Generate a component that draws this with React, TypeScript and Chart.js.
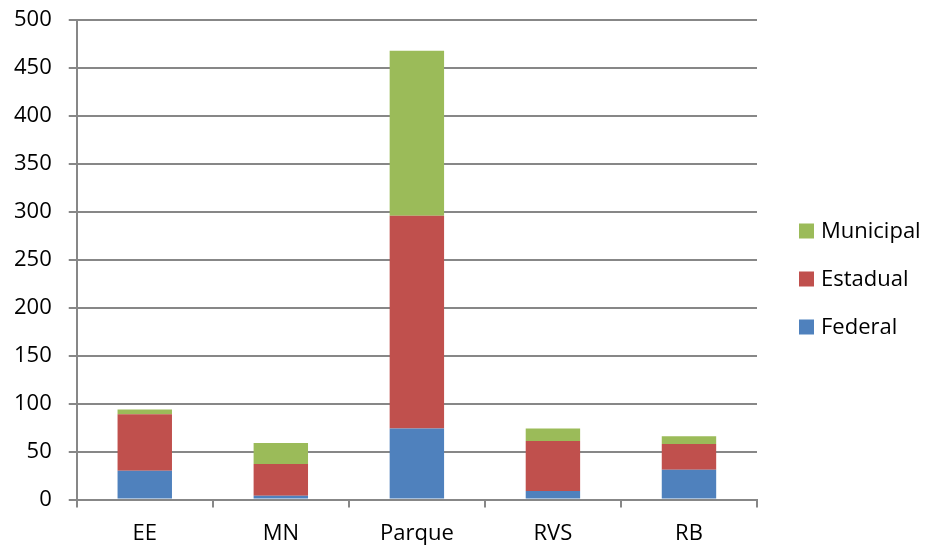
import React, { useEffect, useRef } from "react";
import { Chart, registerables } from "chart.js";

Chart.register(...registerables);

const categories = ["EE", "MN", "Parque", "RVS", "RB"];
const federal = [30, 4, 74, 9, 31];
const estadual = [59, 33, 222, 52, 27];
const municipal = [5, 22, 172, 13, 8];
const yTicks = [0, 50, 100, 150, 200, 250, 300, 350, 400, 450, 500];

const FONT = "'Open Sans', sans-serif";
const FONT_SIZE = 22;
const GRID = "#878787";

// Legend on the right, top entry = last series, square swatches.
const sideLegend = {
  id: "sideLegend",
  afterDraw(chart: any, _args: any, opts: any) {
    const { ctx } = chart;
    const sets = chart.data.datasets.slice().reverse();
    const n = sets.length;
    ctx.save();
    ctx.font = `${FONT_SIZE}px ${FONT}`;
    ctx.textBaseline = "middle";
    ctx.textAlign = "left";
    sets.forEach((ds: any, i: number) => {
      const cy = opts.centerY + (i - (n - 1) / 2) * opts.spacing;
      ctx.fillStyle = ds.backgroundColor;
      ctx.fillRect(opts.x, cy - opts.box / 2, opts.box, opts.box);
      ctx.fillStyle = "#000";
      ctx.fillText(ds.label, opts.x + opts.box + opts.gap, cy + 1);
    });
    ctx.restore();
  },
};

export default function App() {
  const ref = useRef<HTMLCanvasElement | null>(null);

  useEffect(() => {
    if (!ref.current) return;
    const chart = new Chart(ref.current, {
      type: "bar",
      data: {
        labels: categories,
        datasets: [
          { label: "Federal", data: federal, backgroundColor: "#4F81BD" },
          { label: "Estadual", data: estadual, backgroundColor: "#C0504D" },
          { label: "Municipal", data: municipal, backgroundColor: "#9BBB59" },
        ],
      },
      plugins: [sideLegend],
      options: {
        animation: false,
        responsive: false,
        maintainAspectRatio: false,
        layout: { padding: { top: 20, left: -3, right: 173, bottom: -14 } },
        datasets: {
          bar: { categoryPercentage: 1, barPercentage: 0.4 },
        },
        plugins: {
          tooltip: { enabled: false },
          legend: { display: false },
          sideLegend: { x: 799, centerY: 279, spacing: 48, box: 15, gap: 7 },
        } as any,
        scales: {
          x: {
            stacked: true,
            z: 1,
            grid: {
              display: true,
              drawOnChartArea: false,
              drawTicks: true,
              tickLength: 8,
              color: GRID,
              lineWidth: 2,
              offset: true,
            },
            border: { display: true, color: GRID, width: 2 },
            ticks: {
              color: "#000",
              padding: 13,
              font: { family: FONT, size: FONT_SIZE },
            },
          },
          y: {
            stacked: true,
            min: 0,
            max: 500,
            afterBuildTicks: (axis: any) => {
              axis.ticks = yTicks.map((v) => ({ value: v }));
            },
            afterFit: (axis: any) => {
              axis.paddingTop = 0;
              axis.paddingBottom = 0;
            },
            grid: {
              color: GRID,
              lineWidth: 2,
              tickLength: 8,
            },
            border: { display: true, color: GRID, width: 2 },
            ticks: {
              color: "#000",
              padding: 17,
              font: { family: FONT, size: FONT_SIZE },
            },
          },
        },
      },
    });
    return () => chart.destroy();
  }, []);

  return (
    <div style={{ position: "fixed", left: 0, top: 0, width: 930, height: 546, background: "#fff" }}>
      <canvas ref={ref} width={930} height={546} />
    </div>
  );
}
